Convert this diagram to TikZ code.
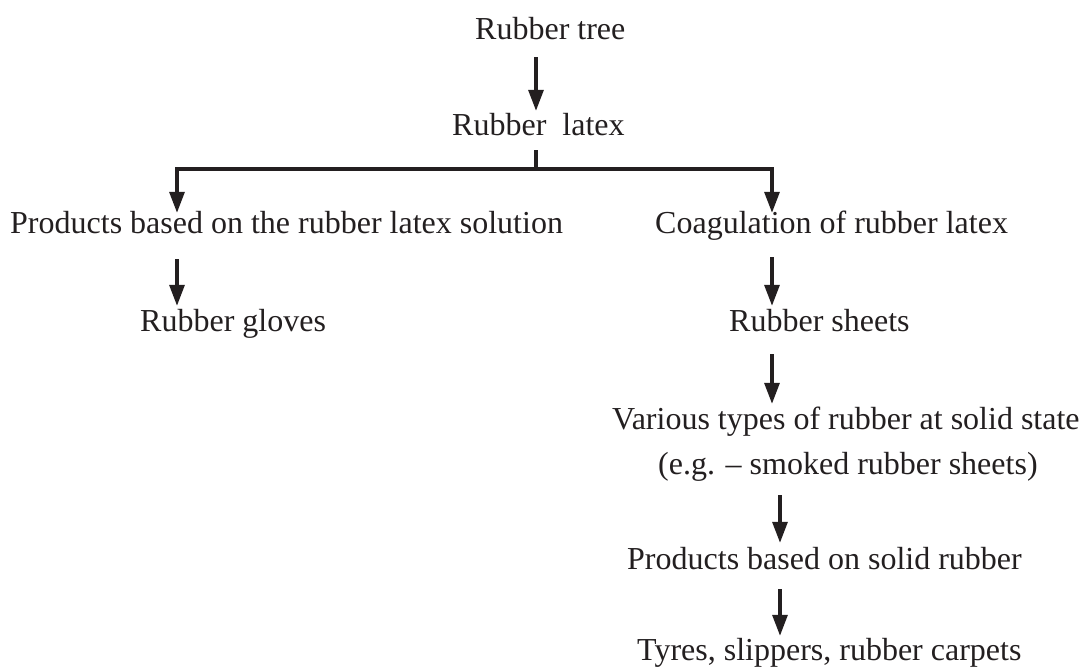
\documentclass[tikz,border=0pt]{standalone}
\usepackage{fontspec}
\setmainfont{Liberation Serif}
\usetikzlibrary{arrows.meta}
\definecolor{ink}{HTML}{231F20}
\begin{document}
\begin{tikzpicture}[x=1pt,y=-1pt,
  lbl/.style={anchor=base west,inner sep=0pt,text height=22pt,text depth=7pt,
              font=\fontsize{32}{38}\selectfont,text=ink},
  flow/.style={draw=ink,line width=3.2pt,-{Triangle[length=21pt,width=15pt]},
               shorten <=14pt,shorten >=4pt},
  bar/.style={draw=ink,line width=3.2pt}]
  \useasboundingbox (0,0) rectangle (1080,668);
  \coordinate (mid) at (536,0);
  \coordinate (left) at (177,0);
  \coordinate (right) at (772,0);
  \coordinate (far) at (780,0);
  \coordinate (hub) at (536,169);

  \node[lbl] (tree) at (475,40) {Rubber tree};
  \node[lbl] (latex) at (452,136) {Rubber\ \ latex};
  \node[lbl] (sol) at (10,234) {Products based on the rubber latex solution};
  \node[lbl] (coag) at (655,234) {Coagulation of rubber latex};
  \node[lbl] (gloves) at (140,332) {Rubber gloves};
  \node[lbl] (sheets) at (729,332) {Rubber sheets};
  \node[lbl] (solid) at (612,430) {Various types of rubber at solid state};
  \node[lbl] (eg) at (658,475) {(e.g. -- smoked rubber sheets)};
  \node[lbl] (prod) at (627,569) {Products based on solid rubber};
  \node[lbl] (tyres) at (637,660) {Tyres, slippers, rubber carpets};

  \draw[flow,shorten <=10pt,shorten >=3pt] (tree.south -| mid) -- (latex.north -| mid);
  \draw[bar,shorten <=7pt] (latex.south -| mid) -- (hub);
  \draw[flow,shorten <=0pt,shorten >=-1pt] (hub) -| (sol.north -| left);
  \draw[flow,shorten <=0pt,shorten >=-1pt] (hub) -| (coag.north -| right);
  \draw[flow,shorten <=18pt] (sol.south -| left) -- (gloves.north -| left);
  \draw[flow,shorten <=16pt] (coag.south -| right) -- (sheets.north -| right);
  \draw[flow,shorten <=15pt] (sheets.south -| right) -- (solid.north -| right);
  \draw[flow,shorten <=13pt] (eg.south -| far) -- (prod.north -| far);
  \draw[flow,shorten <=13pt,shorten >=2pt] (prod.south -| far) -- (tyres.north -| far);
\end{tikzpicture}
\end{document}
